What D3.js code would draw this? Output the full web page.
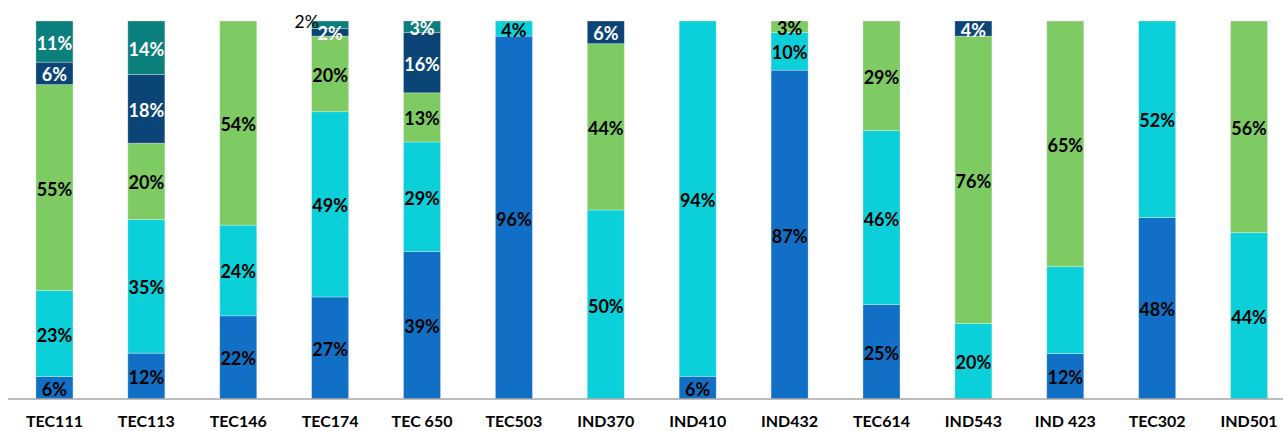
<!DOCTYPE html>
<html><head><meta charset="utf-8">
<script src="https://cdn.jsdelivr.net/npm/d3@7"></script>
<style>body{margin:0;background:#fff}svg{display:block}</style>
</head><body><div id="chart"></div>
<script>
const categories = ["TEC111","TEC113","TEC146","TEC174","TEC 650","TEC503","IND370","IND410","IND432","TEC614","IND543","IND 423","TEC302","IND501"];
const seriesBlue  = [6,12,22,27,39,96,0,6,87,25,0,12,48,0];
const seriesCyan  = [23,35,24,49,29,4,50,94,10,46,20,23,52,44];
const seriesGreen = [55,20,54,20,13,0,44,0,3,29,76,65,0,56];
const seriesNavy  = [6,18,0,2,16,0,6,0,0,0,4,0,0,0];
const seriesTeal  = [11,14,0,2,3,0,0,0,0,0,0,0,0,0];
const seriesNames = ["blue","cyan","green","navy","teal"];
const seriesColors = ["#1170C6","#0CD0D9","#7ECB63","#0B4577","#0B7F7C"];
const labelColors = ["#000","#000","#000","#fff","#fff"];
const hiddenLabels = [["IND 423","cyan"]];
const outsideLabels = [["TEC174","teal"]];

const W = 1283, H = 431;
const svg = d3.select("#chart").append("svg").attr("width", W).attr("height", H);
const seriesData = [seriesBlue, seriesCyan, seriesGreen, seriesNavy, seriesTeal];
const rows = categories.map((c, i) => {
  const r = {cat: c};
  seriesNames.forEach((s, j) => r[s] = seriesData[j][i]);
  return r;
});
const stack = d3.stack().keys(seriesNames).offset(d3.stackOffsetExpand);
const layers = stack(rows);

const x = d3.scaleBand().domain(categories).range([8.5, 1295]).paddingInner(0.597).paddingOuter(0.2985);
const y = d3.scaleLinear().domain([0, 1]).range([399, 21]);

const g = svg.append("g");
layers.forEach((layer, li) => {
  g.selectAll(null).data(layer.filter(d => d[1] - d[0] > 0)).enter().append("rect")
    .attr("x", d => x(d.data.cat))
    .attr("width", x.bandwidth())
    .attr("y", d => y(d[1]))
    .attr("height", d => y(d[0]) - y(d[1]))
    .attr("fill", seriesColors[li])
    .attr("stroke", "rgba(255,255,255,0.35)")
    .attr("stroke-width", 0.8);
});

// axis
const xAxis = d3.axisBottom(x).tickSize(0).tickPadding(0);
const ax = svg.append("g").attr("transform", "translate(0,399)").call(xAxis);
ax.select(".domain").attr("stroke", "#A6A6A6").attr("stroke-width", 1.3).attr("d", "M8,0H1283");
ax.selectAll("text").attr("font-family", "Lato, 'Open Sans', sans-serif").attr("font-weight", "bold")
  .attr("font-size", 16).attr("fill", "#000").attr("dy", null).attr("y", 28);

// labels
layers.forEach((layer, li) => {
  const key = seriesNames[li];
  layer.forEach(d => {
    const v = d.data[key];
    if (!v) return;
    if (hiddenLabels.some(h => h[0] === d.data.cat && h[1] === key)) return;
    const outside = outsideLabels.some(h => h[0] === d.data.cat && h[1] === key);
    if (outside) {
      svg.append("text").attr("x", x(d.data.cat) - 5).attr("y", y(d[1]) + 7)
        .attr("text-anchor", "middle").attr("font-family", "Lato, sans-serif")
        .attr("font-size", 17.5).attr("fill", "#000").text(v + "%");
      return;
    }
    svg.append("text")
      .attr("x", x(d.data.cat) + x.bandwidth() / 2)
      .attr("y", (y(d[0]) + y(d[1])) / 2 + 1)
      .attr("text-anchor", "middle").attr("dominant-baseline", "central")
      .attr("font-family", "Lato, sans-serif").attr("font-weight", "bold")
      .attr("font-size", 18).attr("fill", labelColors[li]).text(v + "%");
  });
});
</script></body></html>
